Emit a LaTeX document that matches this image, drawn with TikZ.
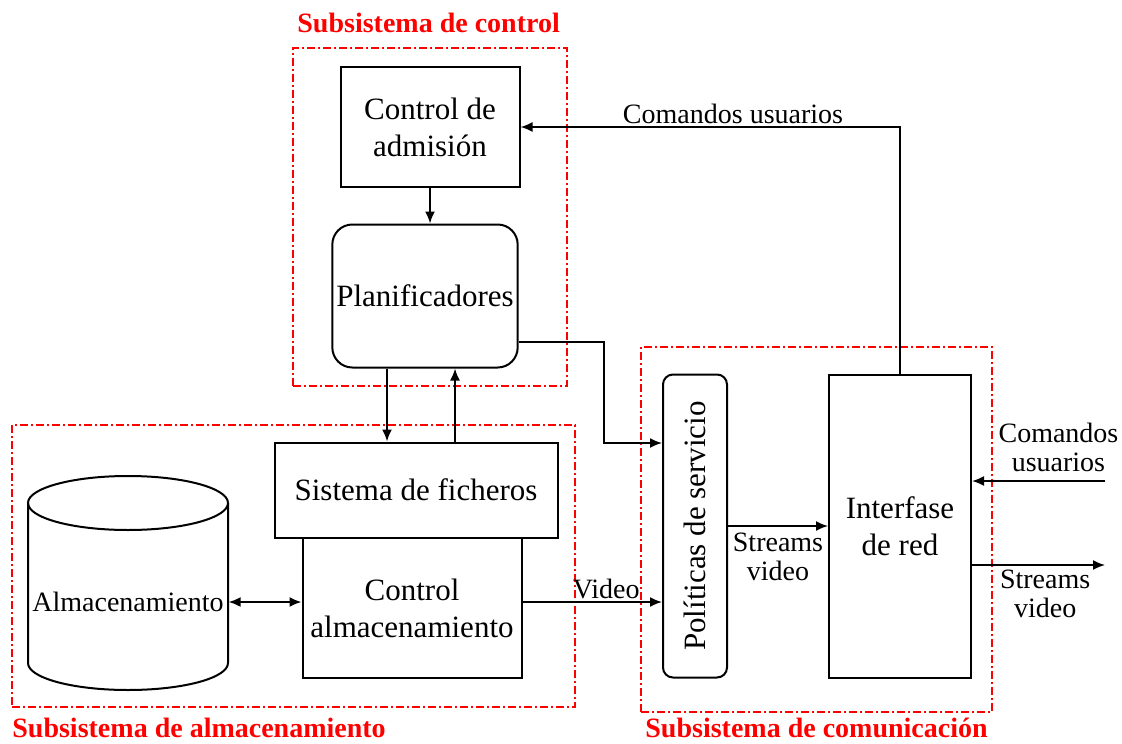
\documentclass[tikz,border=0pt]{standalone}
\usepackage{fontspec}
\setmainfont{Liberation Serif}
\usepackage{tikz}
\usetikzlibrary{
  arrows.meta,
  positioning,
  fit,
  calc
}
\definecolor{ssZone}{HTML}{FF0000}
\tikzset{
  ssnode/.style={
    draw, line width=1pt, align=center, inner sep=2pt,
    font=\fontsize{15.5}{18.5}\selectfont
  },
  ssbox/.style={ssnode},
  ssround/.style={ssnode, rounded corners=10pt},
  zone/.style={draw=ssZone, line width=1.3pt, dash pattern=on 4pt off 1.5pt on 1pt off 1.5pt, inner sep=0pt},
  zonelbl/.style={font=\fontsize{14}{16}\selectfont\bfseries, text=ssZone, inner sep=0pt, anchor=base west},
  flow/.style={-{Latex[length=6pt, width=5pt]}, line width=0.9pt},
  biflow/.style={{Latex[length=6pt, width=5pt]}-{Latex[length=6pt, width=5pt]}, line width=0.9pt},
  tag/.style={font=\fontsize{14}{14.5}\selectfont, align=center, inner sep=1pt}
}
\begin{document}
\begin{tikzpicture}[x=0.5pt, y=-0.5pt]
  \useasboundingbox (0,0) rectangle (1122,743);
  \node[zone, fit={(293,48) (567,386)}] (zctrl) {};
  \node[zone, fit={(12,425) (575,707)}] (zalm) {};
  \node[zone, fit={(641,347) (992,712)}] (zcom) {};
  \node[zonelbl] (lctrl) at (297,33) {Subsistema de control};
  \node[zonelbl] (lalm) at (12,737) {Subsistema de almacenamiento};
  \node[zonelbl] (lcom) at (645,737) {Subsistema de comunicación};

  \node[ssbox, minimum width=89.5pt, minimum height=60pt] (admision) at (430,127) {Control de\\admisión};
  \node[ssround, minimum width=92.5pt, minimum height=71.5pt] (planif) at (425,296) {Planificadores};
  \node[ssbox, minimum width=141.5pt, minimum height=47.5pt] (ficheros) at (416,490) {Sistema de ficheros};
  \node[ssbox, minimum width=109.5pt, minimum height=70pt] (ctrlalm) at (412,608) {Control\\almacenamiento};
  \node[ssround, rounded corners=5pt, minimum width=32pt, minimum height=151.5pt] (politicas) at (695,526) {\rotatebox{90}{Políticas de servicio}};
  \node[ssbox, minimum width=71pt, minimum height=151.5pt] (interfase) at (900,526) {Interfase\\de red};
  \node[ssnode, draw=none, font=\fontsize{14}{16}\selectfont] (almac) at (128,602) {Almacenamiento};
  \draw[line width=1pt] (128,503) ellipse [x radius=100, y radius=27];
  \draw[line width=1pt] (28,503) -- (28,663) arc[start angle=180, end angle=0, x radius=100, y radius=27] -- (228,503);

  \draw[flow] (admision.south) -- (admision.south |- planif.north);
  \draw[flow] ([xshift=-19pt]planif.south) -- ([xshift=-19pt]planif.south |- ficheros.north);
  \draw[flow] ([xshift=15pt]planif.south |- ficheros.north) -- ([xshift=15pt]planif.south);
  \coordinate (polin) at (604,443);
  \draw[flow] ([yshift=-23pt]planif.east) -| (polin) -- (polin -| politicas.west);
  \draw[biflow] (almac.east) -- (almac.east -| ctrlalm.west);
  \draw[flow] (almac.east -| ctrlalm.east) -- node[tag, above, pos=0.6] {Video} (almac.east -| politicas.west);
  \draw[flow] (politicas.east) -- node[tag, below, yshift=-2pt] {Streams\\video} (politicas.east -| interfase.west);
  \draw[flow] (interfase.north) |- node[tag, above, pos=0.72] {Comandos usuarios} (admision.east);
  \coordinate (cmdin) at (1105,481);
  \coordinate (vidout) at (1105,565);
  \draw[flow] (cmdin) -- node[tag, above, pos=0.35, yshift=3pt] {Comandos\\usuarios} (cmdin -| interfase.east);
  \draw[flow] (vidout -| interfase.east) -- node[tag, below, pos=0.55, yshift=-1pt] {Streams\\video} (vidout);
\end{tikzpicture}
\end{document}
